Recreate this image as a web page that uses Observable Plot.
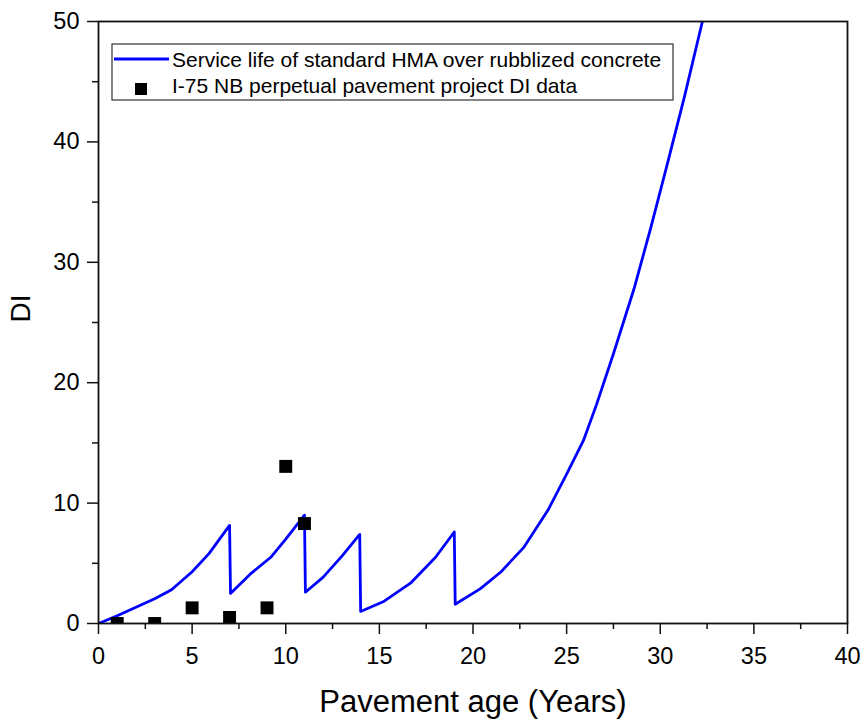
<!DOCTYPE html>
<html><head><meta charset="utf-8">
<script src="https://cdn.jsdelivr.net/npm/d3@7"></script>
<script src="https://cdn.jsdelivr.net/npm/@observablehq/plot@0.6"></script>
<style>
body{margin:0;background:#fff}
#chart{position:relative;width:863px;height:721px}
</style>
</head><body><div id="chart"></div>
<script>
// Service-life model curve
const lineAge = [0,1,2,3,3.9,5,5.9,7,7.05,8.1,9.2,10,11,11.05,12,13,13.95,14.0,15.2,16.7,18,19.0,19.05,20.4,21.5,22.7,24,25,25.9,26.6,27.5,28.6,29.5,30.4,31.3,32.25,32.5];
const lineDI  = [0,0.65,1.35,2.05,2.8,4.3,5.8,8.15,2.5,4.1,5.5,7.0,9.0,2.6,3.85,5.6,7.4,1.0,1.8,3.4,5.5,7.6,1.6,2.9,4.3,6.3,9.4,12.4,15.2,18.2,22.4,27.8,32.9,38.3,43.8,50,52];
// Observed DI data
const obsAge = [1,3,5,7,9,10,11];
const obsDI  = [0,0,1.3,0.5,1.3,13.05,8.3];
// Ticks
const xTicks = [0,5,10,15,20,25,30,35,40];
const xMinor = [2.5,7.5,12.5,17.5,22.5,27.5,32.5,37.5];
const yTicks = [0,10,20,30,40,50];
const yMinor = [5,15,25,35,45];
// Text
const legendLabels = ["Service life of standard HMA over rubblized concrete","I-75 NB perpetual pavement project DI data"];
const xTitle = ["Pavement age (Years)"];
const yTitle = ["DI"];

const lineData = lineAge.map((a,i)=>({age:a, di:lineDI[i]}));
const obsData = obsAge.map((a,i)=>({age:a, di:obsDI[i]}));
const font = "'Liberation Sans', Arial, sans-serif";

const plot = Plot.plot({
  width:863, height:721,
  marginLeft:98, marginRight:16, marginTop:21, marginBottom:98,
  style:{fontFamily:font, background:"#fff", color:"#000", overflow:"visible"},
  x:{domain:[0,40]},
  y:{domain:[0,50]},
  marks:[
    Plot.line(lineData,{x:"age",y:"di",stroke:"#0000ff",strokeWidth:2.8,clip:true}),
    Plot.dot(obsData,{x:"age",y:"di",symbol:"square",r:7.3,fill:"#000",stroke:null,clip:true}),
    Plot.frame({stroke:"#111",strokeWidth:1.8}),
    Plot.axisX(xTicks,{tickSize:11,tickPadding:13,fontSize:23.5,strokeWidth:1.5,label:null,stroke:"#111"}),
    Plot.axisX(xMinor,{tickSize:6,tickFormat:()=>"",strokeWidth:1.5,label:null,stroke:"#111"}),
    Plot.axisY(yTicks,{tickSize:11,tickPadding:8,fontSize:23.5,strokeWidth:1.5,label:null,stroke:"#111"}),
    Plot.axisY(yMinor,{tickSize:6,tickFormat:()=>"",strokeWidth:1.5,label:null,stroke:"#111"}),
    Plot.text(xTitle,{text:d=>d,frameAnchor:"bottom",dy:79,fontSize:31,lineAnchor:"middle",fill:"#000"}),
    Plot.text(yTitle,{text:d=>d,frameAnchor:"left",dx:-77,rotate:-90,fontSize:28,lineAnchor:"middle",fill:"#000"})
  ]
});
document.getElementById("chart").appendChild(plot);

// Legend box inside the plot area
const svg = d3.select(plot);
const lg = svg.append("g").attr("font-family", font).attr("font-size", 21).attr("text-anchor","start");
lg.append("rect").attr("x",112).attr("y",44).attr("width",561).attr("height",56)
  .attr("fill","#fff").attr("stroke","#333").attr("stroke-width",1.2);
lg.append("line").attr("x1",114).attr("x2",169).attr("y1",59).attr("y2",59)
  .attr("stroke","#0000ff").attr("stroke-width",2.8);
lg.append("text").attr("x",172).attr("y",66.5).attr("fill","#000").text(legendLabels[0]);
lg.append("rect").attr("x",135).attr("y",83).attr("width",12).attr("height",12).attr("fill","#000");
lg.append("text").attr("x",172).attr("y",93).attr("fill","#000").text(legendLabels[1]);
</script>
</body></html>
